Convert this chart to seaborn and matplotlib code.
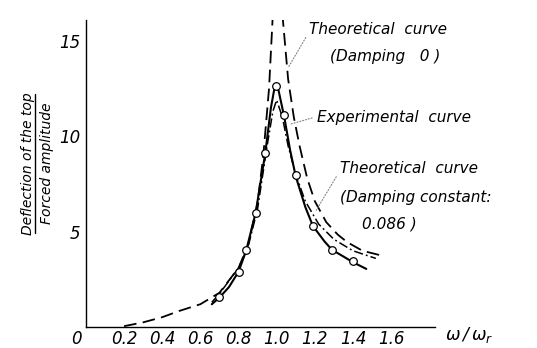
import matplotlib
matplotlib.use("Agg")
import matplotlib.pyplot as plt
import matplotlib.transforms as mtrans
import seaborn as sns

sns.set_theme(style="white")
plt.rcParams['font.family'] = ['DejaVu Sans']
plt.rcParams['font.style'] = 'italic'
plt.rcParams['text.color'] = 'black'
plt.rcParams['xtick.color'] = 'black'
plt.rcParams['ytick.color'] = 'black'
plt.rcParams['mathtext.fontset'] = 'dejavusans'

# Measured points (circles)
exp_x = [0.70, 0.80, 0.84, 0.89, 0.94, 0.995, 1.04, 1.10, 1.19, 1.29, 1.40]
exp_y = [1.6, 2.9, 4.05, 6.0, 9.1, 12.65, 11.1, 7.95, 5.3, 4.05, 3.45]

# Experimental curve (solid)
solid_x = [0.66, 0.70, 0.75, 0.80, 0.84, 0.89, 0.94, 0.97, 0.99, 1.01, 1.04, 1.07,
           1.10, 1.15, 1.19, 1.25, 1.29, 1.35, 1.40, 1.47]
solid_y = [1.2, 1.55, 2.1, 2.9, 4.0, 6.0, 9.1, 11.5, 12.6, 12.4, 11.0, 9.3,
           7.9, 6.3, 5.3, 4.5, 4.05, 3.7, 3.4, 3.05]

# Theoretical curve, damping 0 (dashed)
undamp_lx = [0.20, 0.30, 0.40, 0.49, 0.60, 0.70, 0.80, 0.85, 0.90, 0.93, 0.96, 0.98]
undamp_ly = [0.05, 0.25, 0.52, 0.85, 1.2, 1.8, 3.1, 4.3, 6.5, 9.0, 12.5, 16.4]
undamp_rx = [1.03, 1.06, 1.09, 1.12, 1.16, 1.20, 1.26, 1.32, 1.37, 1.45, 1.55]
undamp_ry = [16.4, 13.0, 11.0, 9.5, 7.8, 6.6, 5.5, 4.85, 4.45, 4.0, 3.75]

# Theoretical curve, damping constant 0.086 (dash-dot)
damp_x = [0.66, 0.70, 0.80, 0.85, 0.90, 0.95, 0.98, 1.00, 1.03, 1.06, 1.10,
          1.15, 1.22, 1.30, 1.40, 1.52]
damp_y = [1.3, 1.75, 3.1, 4.2, 6.2, 9.5, 11.3, 11.9, 11.0, 9.5, 8.0,
          6.6, 5.4, 4.6, 4.0, 3.6]

xticks = [0, 0.2, 0.4, 0.6, 0.8, 1.0, 1.2, 1.4, 1.6]
xtick_labels = ["0", "0.2", "0.4", "0.6", "0.8", "1.0", "1.2", "1.4", "1.6"]
yticks = [5, 10, 15]
ytick_labels = ["5", "10", "15"]

fig = plt.figure(figsize=(5.37, 3.48), dpi=100)
ax = fig.add_axes([0.160, 0.060, 0.650, 0.883])

sns.lineplot(x=solid_x, y=solid_y, ax=ax, color="black", lw=1.5, sort=False)
sns.lineplot(x=undamp_lx, y=undamp_ly, ax=ax, color="black", lw=1.3, sort=False).lines[-1].set_dashes([7, 3.5])
sns.lineplot(x=undamp_rx, y=undamp_ry, ax=ax, color="black", lw=1.3, sort=False).lines[-1].set_dashes([7, 3.5])
sns.lineplot(x=damp_x, y=damp_y, ax=ax, color="black", lw=1.1, sort=False).lines[-1].set_dashes([6, 2, 1.2, 2])
sns.scatterplot(x=exp_x, y=exp_y, ax=ax, marker="o", s=30, facecolor="white",
                edgecolor="black", linewidth=0.9, zorder=5)

ax.set_xlim(0, 1.83)
ax.set_ylim(0, 16.1)
ax.set_xticks(xticks)
ax.set_xticklabels(xtick_labels, fontsize=12, style='italic')
ax.set_yticks(yticks)
ax.set_yticklabels(ytick_labels, fontsize=12, style='italic')
ax.tick_params(axis='both', direction='in', length=3, width=0.8, pad=2)
ax.tick_params(axis='y', pad=4)
for s in ["top", "right"]:
    ax.spines[s].set_visible(False)
for s in ["left", "bottom"]:
    ax.spines[s].set_color("black")
    ax.spines[s].set_linewidth(1.0)

# shift the "0" label slightly left of the origin as in the reference
lbl0 = ax.get_xticklabels()[0]
lbl0.set_transform(lbl0.get_transform() + mtrans.ScaledTranslation(-7/72, 0, fig.dpi_scale_trans))

# x-axis label
ax.text(1.88, -0.42, r"$\omega\,/\,\omega_r$", fontsize=12.5, ha="left", va="center",
        clip_on=False)

# y-axis fractional label
ykw = dict(rotation=90, fontsize=10, ha="center", va="center", style='italic')
fig.text(0.052, 0.53, "Deflection of the top", **ykw)
fig.text(0.088, 0.53, "Forced amplitude", **ykw)
fig.add_artist(plt.Line2D([0.066, 0.066], [0.33, 0.73], color="black", lw=1.0,
                          transform=fig.transFigure))

tkw = dict(fontsize=11, style='italic', ha="left", va="center", clip_on=False)
ax.text(1.17, 15.6, "Theoretical  curve", **tkw)
ax.text(1.28, 14.2, "(Damping   0 )", **tkw)
ax.text(1.21, 11.0, "Experimental  curve", **tkw)
ax.text(1.33, 8.3, "Theoretical  curve", **tkw)
ax.text(1.33, 6.8, "(Damping constant:", **tkw)
ax.text(1.45, 5.4, "0.086 )", **tkw)

lkw = dict(arrowprops=dict(arrowstyle="-", color="gray", lw=0.8, linestyle=":"))
ax.annotate("", xy=(1.055, 13.5), xytext=(1.16, 15.3), **lkw)
ax.annotate("", xy=(1.06, 10.6), xytext=(1.20, 11.0), **lkw)
ax.annotate("", xy=(1.20, 6.0), xytext=(1.32, 8.0), **lkw)

fig.savefig("out.png", dpi=100, facecolor="white")
